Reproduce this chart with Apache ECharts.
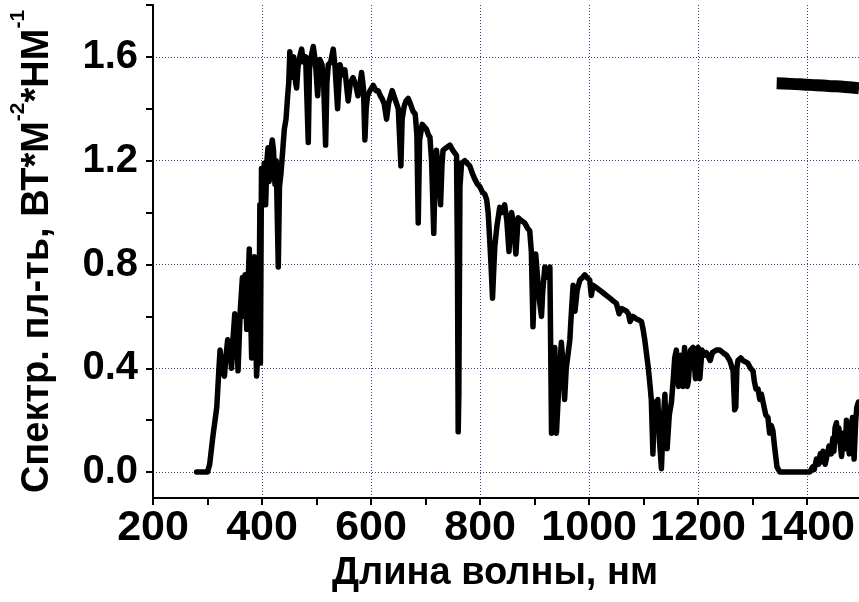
<!DOCTYPE html>
<html><head><meta charset="utf-8">
<script src="https://cdn.jsdelivr.net/npm/echarts@6/dist/echarts.min.js"></script>
<style>html,body{margin:0;padding:0;background:#fff}#c{width:859px;height:602px}</style>
</head><body><div id="c"></div>
<script>
// Spectrum (nm, W*m^-2*nm^-1)
const wavelength = [280,300,304,310,317,321,323,326,331,334,337,341,344,347,350,353,356,360,364,366,369,372,374,376.6,379,381,383,386,388,390,392,394,396,397,399,401,404,406.6,409,411,413,415,418.8,421,423.7,426,429.8,432,434.7,438,440.8,444,447,449,451,453,455,458,461.6,463.4,466,469,472.6,476,480,484.8,487,490,494,498,502,506,510,513,516.6,519,521.5,526,530.6,534,538.6,543,548,552,558,562,567,572,576,580,582.6,586,588.7,591,593.5,598,604,609,613,617,620,624,628.4,632,638.8,642,646.8,650,654.7,657,660.8,664,668,672,677,681,684,686.5,689,693.8,698,701.8,705,708,711,715,717,720,724,727.5,730,732,738,744.5,750,756.8,758.5,759.8,761,763,766,772,776,781,786,790,795,799.5,804,808.7,812,814.8,818,820,822.8,825,827,831,836,840,845,849,853,855.5,857.7,861,865.6,868,869.8,875,882,887,891,894,897,899,902,905,909,912.6,915,918.7,921.8,925,928,931,934,937,940,943,946,949,952,955,958,961,964.6,967,970.6,974,978,983,988,992,996,1001,1004,1007,1013.5,1020,1026,1032,1038,1044,1050,1055,1060,1068.5,1072,1075,1080,1087,1092,1096,1099,1102,1105,1108,1111,1114,1117,1120,1123,1126,1129,1132.6,1136,1139,1141,1143,1147,1151,1154,1157,1160,1164,1168,1172,1175,1178.6,1180,1182,1186,1190.6,1195,1197,1200,1203,1207,1211,1215,1222,1226,1233.5,1239.6,1245.6,1252,1257.9,1261,1264,1267,1269,1271,1273,1278,1282,1285,1291,1296,1300.6,1303,1306,1309.8,1313,1316,1319,1324,1328,1331,1334,1337,1340,1344.6,1349.6,1405,1410,1413,1417,1421,1424,1427,1429,1433,1436,1440,1444,1447,1449,1451,1453.6,1456,1458,1460,1463,1465,1467,1470,1472,1475,1477,1480,1483,1486,1489,1491,1494];
const irradiance = [0,0,0.03,0.14,0.25,0.40,0.47,0.40,0.37,0.45,0.51,0.48,0.40,0.52,0.61,0.55,0.39,0.62,0.75,0.60,0.76,0.55,0.70,0.86,0.62,0.44,0.70,0.83,0.60,0.37,0.45,0.42,1.03,0.42,1.17,1.05,1.19,1.03,1.20,1.25,1.12,1.22,1.28,1.24,1.11,1.20,0.79,1.10,1.15,1.24,1.32,1.36,1.45,1.50,1.62,1.52,1.56,1.60,1.50,1.48,1.56,1.60,1.63,1.58,1.60,1.27,1.55,1.60,1.64,1.58,1.45,1.59,1.57,1.50,1.26,1.50,1.57,1.58,1.63,1.56,1.40,1.57,1.53,1.55,1.43,1.50,1.52,1.49,1.45,1.50,1.54,1.48,1.28,1.40,1.45,1.47,1.49,1.47,1.47,1.45,1.44,1.42,1.36,1.42,1.47,1.45,1.42,1.40,1.18,1.36,1.41,1.43,1.44,1.42,1.39,1.38,1.30,0.96,1.28,1.34,1.33,1.32,1.30,1.29,1.20,0.92,1.10,1.24,1.15,1.03,1.18,1.24,1.25,1.26,1.24,1.22,0.80,0.155,0.30,1.10,1.19,1.20,1.19,1.18,1.15,1.13,1.11,1.10,1.08,1.07,1.05,1.00,0.88,0.80,0.67,0.78,0.87,0.95,1.02,1.00,1.03,0.97,0.85,0.95,1.00,0.96,0.84,0.92,0.98,0.97,0.96,0.94,0.93,0.85,0.56,0.70,0.84,0.76,0.66,0.60,0.70,0.79,0.79,0.75,0.79,0.15,0.35,0.48,0.15,0.15,0.40,0.50,0.42,0.28,0.40,0.45,0.51,0.60,0.72,0.62,0.70,0.74,0.75,0.76,0.75,0.74,0.68,0.72,0.71,0.70,0.69,0.68,0.67,0.66,0.65,0.61,0.63,0.62,0.61,0.58,0.60,0.59,0.585,0.58,0.55,0.51,0.46,0.41,0.35,0.28,0.07,0.27,0.20,0.28,0.12,0.013,0.20,0.30,0.15,0.09,0.22,0.27,0.35,0.44,0.47,0.33,0.45,0.33,0.48,0.48,0.33,0.35,0.47,0.48,0.36,0.47,0.48,0.36,0.47,0.45,0.46,0.43,0.46,0.47,0.47,0.46,0.45,0.43,0.41,0.39,0.24,0.25,0.40,0.43,0.44,0.43,0.43,0.42,0.40,0.39,0.35,0.32,0.32,0.28,0.30,0.27,0.22,0.21,0.15,0.18,0.16,0.10,0.02,0,0,0.02,0.01,0.05,0.03,0.07,0.04,0.08,0.03,0.03,0.10,0.07,0.13,0.08,0.17,0.19,0.12,0.17,0.12,0.06,0.11,0.15,0.09,0.20,0.14,0.07,0.15,0.21,0.05,0.20,0.25,0.27];
// Thick upper curve (top right)
const upperWavelength = [1344,1370,1398,1417,1440,1470,1495];
const upperValue = [1.498,1.496,1.493,1.491,1.488,1.484,1.479];

const xTickValues = [200,300,400,500,600,700,800,900,1000,1100,1200,1300,1400];
const xLabelValues = [200,400,600,800,1000,1200,1400];
const xGridValues = [400,600,800,1000,1200,1400];
const yTickValues = [0,0.2,0.4,0.6,0.8,1.0,1.2,1.4,1.6,1.8];
const yLabelValues = [0,0.4,0.8,1.2,1.6];
const yGridValues = [0,0.4,0.8,1.2,1.6];

const titleFont = '"Liberation Sans", Arial, sans-serif';
const titleSize = 38;
const supSize = 21;
const tickFont = '"Liberation Sans", Arial, sans-serif';

const chart = echarts.init(document.getElementById('c'), null, {renderer:'canvas'});
const gridColor = '#3a3a88';
const option = {
  animation:false,
  backgroundColor:'#ffffff',
  grid:{left:153,right:0,top:5,bottom:104,containLabel:false,outerBoundsMode:'none'},
  xAxis:[{
    type:'value',min:200,max:1495,interval:200,
    axisLine:{show:true,onZero:false,lineStyle:{color:'#000',width:2}},
    axisTick:{show:true,length:7,inside:false,lineStyle:{color:'#000',width:2},customValues:xTickValues},
    axisLabel:{show:true,margin:9,color:'#000',fontFamily:tickFont,fontWeight:'bold',fontSize:43,customValues:xLabelValues,hideOverlap:false,formatter:function(v){return String(v);}},
    splitLine:{show:false},
    name:'Длина волны, нм',nameLocation:'middle',nameGap:48,
    nameTextStyle:{color:'#000',fontFamily:titleFont,fontWeight:'bold',fontSize:titleSize,padding:[0,22,0,0]}
  },{
    type:'value',min:200,max:1495,position:'bottom',
    axisLine:{show:false},axisLabel:{show:false},
    axisTick:{show:false,customValues:xGridValues},
    splitLine:{show:true,lineStyle:{color:gridColor,width:1,type:[1,2]}}
  }],
  yAxis:[{
    type:'value',min:-0.1,max:1.8,
    axisLine:{show:true,onZero:false,lineStyle:{color:'#000',width:2}},
    axisTick:{show:true,length:7,inside:false,lineStyle:{color:'#000',width:2},customValues:yTickValues},
    axisLabel:{show:true,margin:15,color:'#000',fontFamily:tickFont,fontWeight:'bold',fontSize:40,customValues:yLabelValues,formatter:function(v){return v.toFixed(1);}},
    splitLine:{show:false},
    name:'{a|Спектр. пл-ть, ВТ*М}{s|-2}{a|*НМ}{s|-1}',
    nameLocation:'middle',nameRotate:90,nameGap:85,
    nameTextStyle:{color:'#000',rich:{
      a:{fontFamily:titleFont,fontWeight:'bold',fontSize:titleSize,lineHeight:60,color:'#000'},
      s:{fontFamily:titleFont,fontWeight:'bold',fontSize:supSize,lineHeight:supSize,verticalAlign:'top',color:'#000'}
    }}
  },{
    type:'value',min:-0.1,max:1.8,position:'left',
    axisLine:{show:false},axisLabel:{show:false},
    axisTick:{show:false,customValues:yGridValues},
    splitLine:{show:true,lineStyle:{color:gridColor,width:1,type:[1,2]}}
  }],
  series:[{
    type:'line',xAxisIndex:0,yAxisIndex:0,
    data:wavelength.map(function(w,i){return [w,irradiance[i]];}),
    showSymbol:false,symbol:'none',clip:true,
    lineStyle:{color:'#000',width:5.5,join:'round',cap:'round'}
  },{
    type:'line',xAxisIndex:0,yAxisIndex:0,
    data:upperWavelength.map(function(w,i){return [w,upperValue[i]];}),
    showSymbol:false,symbol:'none',clip:true,smooth:true,
    lineStyle:{color:'#000',width:12,cap:'butt'}
  }]
};
chart.setOption(option);
</script></body></html>
